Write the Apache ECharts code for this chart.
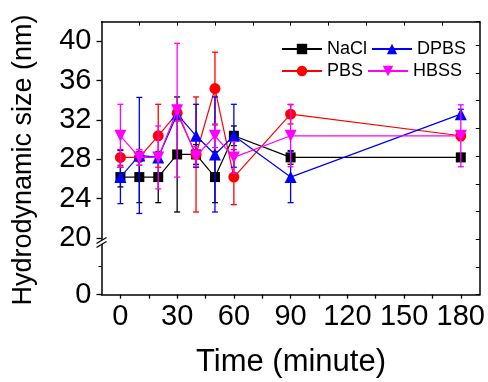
<!DOCTYPE html>
<html>
<head>
<meta charset="utf-8">
<script src="https://cdn.jsdelivr.net/npm/echarts@6/dist/echarts.min.js"></script>
<style>html,body{margin:0;padding:0;background:#fff}#c{width:488px;height:382px}</style>
</head>
<body>
<div id="c"></div>
<script>
// ---- data ----
const times = [0, 10, 20, 30, 40, 50, 60, 90, 180];
const nacl    = [26.2, 26.2, 26.2, 28.5, 28.5, 26.2, 30.4, 28.2, 28.2];
const naclErr = [1.0, 2.6, 2.6, 5.85, 1.0, 2.6, 1.0, 0.7, 0.4];
const pbs     = [28.2, 28.2, 30.4, 32.7, 28.5, 35.2, 26.2, 32.6, 30.4];
const pbsErr  = [0.8, 0.8, 3.2, 0.8, 5.85, 3.7, 2.8, 1.0, 0.5];
const dpbs    = [26.2, 28.4, 28.2, 32.6, 30.4, 28.5, 30.4, 26.2, 32.6];
const dpbsErr = [2.7, 5.9, 0.4, 0.5, 3.2, 5.85, 3.2, 2.6, 0.5];
const hbss    = [30.4, 28.2, 28.2, 33.0, 28.3, 30.4, 28.2, 30.4, 30.4];
const hbssErr = [3.2, 0.8, 3.2, 6.8, 1.0, 1.2, 1.6, 3.15, 3.15];
const xTickLabels = [0, 30, 60, 90, 120, 150, 180];
const yTickLabels = [0, 20, 24, 28, 32, 36, 40];

// axis break: real 0 shown at virtual ZERO_POS, values >= 20 unchanged
const ZERO_POS = 14.24;
const BREAK_REAL = 20;
function toVirtual(v) { return v >= BREAK_REAL ? v : ZERO_POS + (v / BREAK_REAL) * (BREAK_REAL - ZERO_POS); }

const FONT = "'Liberation Sans', Arial, sans-serif";
const chart = echarts.init(document.getElementById('c'), null, {renderer: 'canvas'});

function pts(vals) { return times.map((t, i) => [t, toVirtual(vals[i])]); }
function errs(vals, e) { return times.map((t, i) => [t, toVirtual(vals[i] - e[i]), toVirtual(vals[i] + e[i])]); }

function errRender(color) {
  return function (params, api) {
    const x = api.value(0), lo = api.value(1), hi = api.value(2);
    const a = api.coord([x, hi]), b = api.coord([x, lo]);
    const w = 3;
    const st = {stroke: color, lineWidth: 1.3};
    return {type: 'group', children: [
      {type: 'line', shape: {x1: a[0], y1: a[1], x2: b[0], y2: b[1]}, style: st},
      {type: 'line', shape: {x1: a[0] - w, y1: a[1], x2: a[0] + w, y2: a[1]}, style: st},
      {type: 'line', shape: {x1: b[0] - w, y1: b[1], x2: b[0] + w, y2: b[1]}, style: st}
    ]};
  };
}

const defs = [
  {name: 'NaCl', vals: nacl, err: naclErr, color: '#000000', symbol: 'rect', size: 10},
  {name: 'PBS', vals: pbs, err: pbsErr, color: '#ff0000', symbol: 'circle', size: 11},
  {name: 'DPBS', vals: dpbs, err: dpbsErr, color: '#0000ff', symbol: 'triangle', size: 12},
  {name: 'HBSS', vals: hbss, err: hbssErr, color: '#ff00ff', symbol: 'path://M0,0 L10,0 L5,9 Z', size: 12}
];

const series = [];
defs.forEach((d, k) => {
  series.push({
    type: 'custom', name: d.name + '_err', xAxisIndex: 0, yAxisIndex: 0,
    data: errs(d.vals, d.err), encode: {x: 0, y: [1, 2]},
    renderItem: errRender(d.color), z: 2 + k * 2, silent: true
  });
  series.push({
    type: 'line', name: d.name, xAxisIndex: 0, yAxisIndex: 0,
    data: pts(d.vals), symbol: d.symbol, symbolSize: d.size, showAllSymbol: true,
    itemStyle: {color: d.color}, lineStyle: {color: d.color, width: 1.2},
    z: 3 + k * 2
  });
});

const axisLineStyle = {color: '#000', width: 1.5};
const yTickVirtual = yTickLabels.map(toVirtual);

chart.setOption({
  animation: false,
  backgroundColor: '#fff',
  textStyle: {fontFamily: FONT},
  grid: {left: 101.5, right: 7.3, top: 21.7, bottom: 87.3, containLabel: false},
  legend: {
    left: 276, top: 35, width: 200, itemWidth: 40, itemHeight: 13, itemGap: 4,
    textStyle: {fontSize: 18, width: 46, color: '#000', fontFamily: FONT},
    data: ['NaCl', 'DPBS', 'PBS', 'HBSS']
  },
  xAxis: [
    {type: 'value', position: 'bottom', min: -10, max: 190,
     axisLine: {show: true, onZero: false, lineStyle: axisLineStyle},
     axisTick: {show: true, inside: false, length: 4, customValues: [0, 15, 30, 45, 60, 75, 90, 105, 120, 135, 150, 165, 180], lineStyle: {color: '#000', width: 1.3}},
     axisLabel: {customValues: xTickLabels, fontSize: 29, color: '#000', margin: 8, fontFamily: FONT},
     splitLine: {show: false}},
    {type: 'value', position: 'top', min: -10, max: 190,
     axisLine: {show: true, onZero: false, lineStyle: axisLineStyle},
     axisTick: {show: true, inside: true, length: 4, customValues: [10, 30, 50, 70, 90, 110, 130, 150, 170], lineStyle: {color: '#000', width: 1}},
     axisLabel: {show: false}, splitLine: {show: false}}
  ],
  yAxis: [
    {type: 'value', position: 'left', min: ZERO_POS, max: 42,
     axisLine: {show: true, onZero: false, lineStyle: axisLineStyle},
     axisTick: {show: true, inside: false, length: 5, customValues: yTickVirtual, lineStyle: {color: '#000', width: 1.3}},
     axisLabel: {customValues: yTickVirtual, fontSize: 29, color: '#000', margin: 10, fontFamily: FONT,
                 formatter: v => (v < BREAK_REAL - 0.5 ? '0' : String(Math.round(v)))},
     splitLine: {show: false}},
    {type: 'value', position: 'right', min: 0, max: 39.4, interval: 4,
     axisLine: {show: true, onZero: false, lineStyle: axisLineStyle},
     axisTick: {show: true, inside: true, length: 4, lineStyle: {color: '#000', width: 1}},
     axisLabel: {show: false}, splitLine: {show: false}},
    {type: 'value', position: 'left', min: ZERO_POS, max: 42,
     axisLine: {show: false, onZero: false},
     axisTick: {show: true, inside: false, length: 3, customValues: [toVirtual(10)], lineStyle: {color: '#000', width: 1}},
     axisLabel: {show: false}, splitLine: {show: false}}
  ],
  series: series
});

// titles and axis-break mark
const brk = chart.convertToPixel({xAxisIndex: 0, yAxisIndex: 0}, [-10, 19.75]);
const bx = brk[0], by = brk[1];
chart.setOption({
  graphic: [
    {type: 'polygon', shape: {points: [[bx - 5, by + 3], [bx + 5, by - 3], [bx + 5, by + 1], [bx - 5, by + 7]]}, style: {fill: '#fff'}, z: 100},
    {type: 'line', shape: {x1: bx - 5, y1: by + 3, x2: bx + 5, y2: by - 3}, style: {stroke: '#000', lineWidth: 1.2}, z: 101},
    {type: 'line', shape: {x1: bx - 5, y1: by + 7, x2: bx + 5, y2: by + 1}, style: {stroke: '#000', lineWidth: 1.2}, z: 101},
    {type: 'text', x: 291, y: 362, z: 100,
     style: {text: 'Time (minute)', font: '31px ' + FONT, fill: '#000', textAlign: 'center', textVerticalAlign: 'middle'}},
    {type: 'text', x: 24, y: 160, rotation: Math.PI / 2, z: 100,
     style: {text: 'Hydrodynamic size (nm)', font: '27px ' + FONT, fill: '#000', textAlign: 'center', textVerticalAlign: 'middle'}}
  ]
});
</script>
</body>
</html>
